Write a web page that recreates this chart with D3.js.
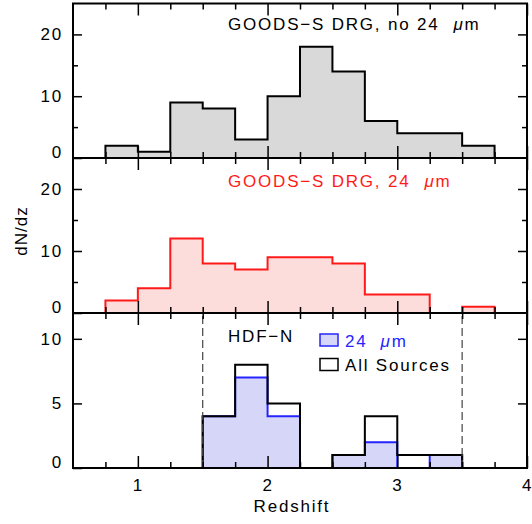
<!DOCTYPE html>
<html>
<head>
<meta charset="utf-8">
<script src="https://cdn.jsdelivr.net/npm/d3@7"></script>
<style>
  body { margin: 0; background: #fff; }
  text { font-family: "Liberation Sans", Arial, sans-serif; font-size: 17px; letter-spacing: 1.8px; }
</style>
</head>
<body>
<script>
// bins are 0.25 wide in redshift
const binWidth = 0.25;
const goodsBins = [0.75, 1.0, 1.25, 1.5, 1.75, 2.0, 2.25, 2.5, 2.75, 3.0, 3.25, 3.5];
const goodsNo24 = [2, 1, 9, 8, 3, 10, 18, 14, 6, 4, 4, 2];
const goods24 = [2, 4, 12, 8, 7, 9, 9, 8, 3, 3, 0, 1];

const hdfBins = [1.5, 1.75, 2.0, 2.25, 2.5, 2.75, 3.0, 3.25];
const hdfAll = [4, 8, 5, 0, 1, 4, 1, 1];
const hdf24 = [4, 7, 4, 0, 1, 2, 0, 1];

const hdfWindow = [1.5, 3.5];

const xTicks = [1, 2, 3, 4];
const yTicksGoods = [0, 10, 20];
const yMinorGoods = [5, 15];
const yTicksHdf = [0, 5, 10];

const W = 532, H = 524;
const svg = d3.select("body").append("svg").attr("width", W).attr("height", H);

const x = d3.scaleLinear().domain([0.5, 4]).range([73, 527]);
const xMinor = d3.range(0.75, 4, 0.25).filter((v) => Math.abs(v - Math.round(v)) > 1e-6);

const panels = [
  { top: 3.5, bottom: 158, ymax: 25, major: yTicksGoods, minor: yMinorGoods },
  { top: 158, bottom: 313, ymax: 25, major: yTicksGoods, minor: yMinorGoods },
  { top: 313, bottom: 468, ymax: 12, major: yTicksHdf, minor: [] },
];
panels.forEach((p) => {
  p.y = d3.scaleLinear().domain([0, p.ymax]).range([p.bottom, p.top]);
});

function stepPoints(bins, counts) {
  const pts = [{ x: bins[0], v: 0 }];
  bins.forEach((b, i) => pts.push({ x: b, v: counts[i] }));
  pts.push({ x: bins[bins.length - 1] + binWidth, v: 0 });
  return pts;
}

function drawHist(p, bins, counts, fill, stroke) {
  const pts = stepPoints(bins, counts);
  if (fill) {
    const area = d3.area().curve(d3.curveStepAfter)
      .x((d) => x(d.x)).y0(p.y(0)).y1((d) => p.y(d.v));
    svg.append("path").datum(pts).attr("d", area).attr("fill", fill);
  }
  const line = d3.line().curve(d3.curveStepAfter)
    .x((d) => x(d.x)).y((d) => p.y(d.v));
  svg.append("path").datum(pts).attr("d", line)
    .attr("fill", "none").attr("stroke", stroke).attr("stroke-width", 2);
}

// panel 1: GOODS-S, no 24um
drawHist(panels[0], goodsBins, goodsNo24, "#d9d9d9", "#000");
// panel 2: GOODS-S, 24um
drawHist(panels[1], goodsBins, goods24, "#fddcdc", "#ff1a1a");
// panel 3: HDF-N
drawHist(panels[2], hdfBins, hdf24, "#d6d6f8", "#2424ff");
drawHist(panels[2], hdfBins, hdfAll, null, "#000");

svg.selectAll(".window").data(hdfWindow).enter().append("line")
  .attr("x1", (d) => x(d)).attr("x2", (d) => x(d))
  .attr("y1", panels[2].top + 3).attr("y2", panels[2].bottom)
  .attr("stroke", "#444").attr("stroke-width", 1.2)
  .attr("stroke-dasharray", "8,4");

// axes
panels.forEach((p, i) => {
  const isLast = i === panels.length - 1;
  svg.append("g").attr("transform", `translate(0,${p.bottom})`)
    .call(d3.axisBottom(x).tickValues(xTicks).tickSizeInner(-12).tickSizeOuter(0)
      .tickPadding(11).tickFormat(isLast ? d3.format("d") : () => ""));
  svg.append("g").attr("transform", `translate(0,${p.bottom})`)
    .call(d3.axisBottom(x).tickValues(xMinor).tickSizeInner(-6).tickSizeOuter(0).tickFormat(() => ""));
  svg.append("g").attr("transform", `translate(0,${p.top})`)
    .call(d3.axisTop(x).tickValues(xTicks).tickSizeInner(-12).tickSizeOuter(0).tickFormat(() => ""));
  svg.append("g").attr("transform", `translate(0,${p.top})`)
    .call(d3.axisTop(x).tickValues(xMinor).tickSizeInner(-6).tickSizeOuter(0).tickFormat(() => ""));

  const gl = svg.append("g").attr("transform", `translate(${x.range()[0]},0)`)
    .call(d3.axisLeft(p.y).tickValues(p.major).tickSizeInner(-9).tickSizeOuter(0)
      .tickPadding(10).tickFormat(d3.format("d")));
  gl.selectAll(".tick").filter((d) => d === 0).select("text").attr("y", -6);
  svg.append("g").attr("transform", `translate(${x.range()[0]},0)`)
    .call(d3.axisLeft(p.y).tickValues(p.minor).tickSizeInner(-5).tickSizeOuter(0).tickFormat(() => ""));
  svg.append("g").attr("transform", `translate(${x.range()[1]},0)`)
    .call(d3.axisRight(p.y).tickValues(p.major.filter((v) => v > 0)).tickSizeInner(-9).tickSizeOuter(0).tickFormat(() => ""));
  svg.append("g").attr("transform", `translate(${x.range()[1]},0)`)
    .call(d3.axisRight(p.y).tickValues(p.minor).tickSizeInner(-5).tickSizeOuter(0).tickFormat(() => ""));

  svg.append("rect")
    .attr("x", x.range()[0]).attr("y", p.top)
    .attr("width", x.range()[1] - x.range()[0]).attr("height", p.bottom - p.top)
    .attr("fill", "none").attr("stroke", "#000").attr("stroke-width", 2);
});

svg.selectAll(".domain").remove();
svg.selectAll(".tick line").attr("stroke", "#000").attr("stroke-width", 1.5);
svg.selectAll(".tick text").attr("fill", "#000")
  .style("font-family", '"Liberation Sans", Arial, sans-serif').style("font-size", "17px");

// labels
function micron(sel, before, gap) {
  sel.append("tspan").text(before);
  sel.append("tspan").attr("dx", gap).style("font-style", "italic").text("\u03bc");
  sel.append("tspan").text("m");
}

micron(svg.append("text").attr("x", 228).attr("y", 30).attr("fill", "#000"),
  "GOODS\u2212S DRG, no 24", 14);
micron(svg.append("text").attr("x", 228).attr("y", 187).attr("fill", "#ff1a1a"),
  "GOODS\u2212S DRG, 24", 14);
svg.append("text").attr("x", 228).attr("y", 342).attr("fill", "#000").text("HDF\u2212N");

// legend
const legendItems = [
  { fill: "#d6d6f8", stroke: "#2424ff", color: "#2424ff", y: 334 },
  { fill: "none", stroke: "#000", color: "#000", y: 358.5 },
];
legendItems.forEach((d, i) => {
  svg.append("rect").attr("x", 320).attr("y", d.y).attr("width", 18).attr("height", 12)
    .attr("fill", d.fill).attr("stroke", d.stroke).attr("stroke-width", 1.5);
  const t = svg.append("text").attr("x", 345).attr("y", d.y + 12.5).attr("fill", d.color);
  if (i === 0) micron(t, "24", 13);
  else t.text("All Sources");
});

svg.append("text").attr("x", 292).attr("y", 512).attr("text-anchor", "middle")
  .attr("fill", "#000").text("Redshift");
svg.append("text").attr("transform", "translate(27,231) rotate(-90)")
  .attr("text-anchor", "middle").attr("fill", "#000").style("letter-spacing", "1px").text("dN/dz");
</script>
</body>
</html>
